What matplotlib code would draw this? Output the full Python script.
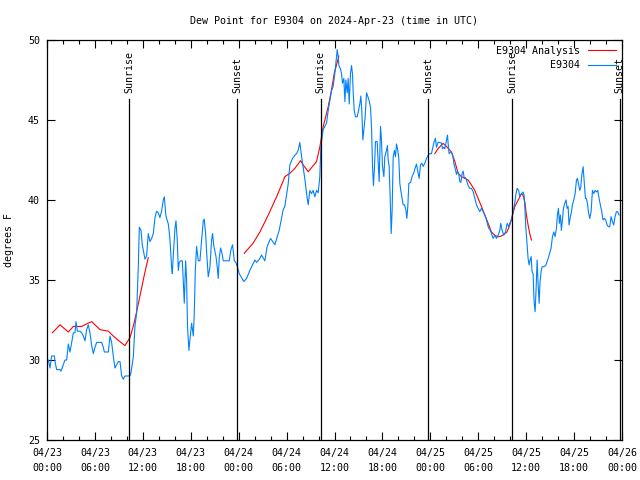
import matplotlib
matplotlib.use("Agg")
import matplotlib.pyplot as plt
import matplotlib.dates as mdates
import numpy as np
import pandas as pd

nan = float("nan")
start = pd.Timestamp("2024-04-23 00:00")

# station observations (hours after 04/23 00:00 UTC, degrees F)
obs_hours = [
    0.0, 0.17, 0.38, 0.58, 0.92, 1.0, 1.21, 1.63, 1.75, 2.04, 2.25, 2.46, 2.67, 2.88, 3.09, 3.3, 3.5, 3.63,
    3.8, 4.13, 4.34, 4.55, 4.76, 4.96, 5.17, 5.38, 5.59, 5.8, 6.01, 6.22, 6.63, 6.84, 7.05, 7.18, 7.68, 7.89,
    8.09, 8.3, 8.51, 8.72, 8.93, 9.14, 9.35, 9.55, 9.76, 10.39, 10.51, 10.81, 11.01, 11.22, 11.43, 11.56,
    11.77, 11.93, 12.27, 12.47, 12.68, 12.89, 13.1, 13.31, 13.52, 13.73, 13.93, 14.14, 14.35, 14.56, 14.69,
    14.89, 15.19, 15.39, 15.6, 15.69, 15.81, 16.02, 16.15, 16.31, 16.44, 16.56, 16.73, 16.94, 17.06, 17.19,
    17.36, 17.48, 17.6, 17.77, 17.9, 18.11, 18.32, 18.44, 18.57, 18.73, 18.94, 19.15, 19.36, 19.57, 19.69,
    19.86, 19.98, 20.19, 20.4, 20.61, 20.73, 20.9, 21.15, 21.32, 21.44, 21.57, 21.74, 21.9, 22.07, 22.82,
    23.03, 23.24, 23.45, 23.65, 23.86, 24.07, 24.3, 24.65, 25.0, 25.4, 26.03, 26.24, 26.6, 26.87, 27.28,
    27.57, 27.99, 28.53, 29.07, 29.58, 29.78, 30.2, 30.41, 30.74, 31.04, 31.24, 31.45, 31.66, 31.87, 32.08,
    32.29, 32.5, 32.71, 32.91, 33.12, 33.33, 33.54, 33.75, 33.96, 34.16, 34.29, 34.4, 34.58, 34.79, 35.0,
    35.21, 35.42, 35.62, 35.83, 36.04, 36.25, 36.34, 36.46, 36.55, 36.75, 36.88, 37.0, 37.17, 37.3, 37.42,
    37.59, 37.71, 37.84, 38.0, 38.13, 38.25, 38.34, 38.47, 38.63, 38.84, 38.97, 39.17, 39.3, 39.42, 39.55,
    39.68, 39.84, 40.01, 40.22, 40.34, 40.51, 40.64, 40.76, 40.88, 41.01, 41.13, 41.34, 41.47, 41.59, 41.76,
    41.88, 42.01, 42.18, 42.3, 42.51, 42.63, 42.72, 42.84, 42.97, 43.1, 43.22, 43.35, 43.51, 43.64, 43.76,
    43.93, 44.05, 44.18, 44.3, 44.47, 44.6, 44.76, 44.93, 45.06, 45.18, 45.31, 45.52, 45.72, 45.93, 46.1,
    46.26, 46.43, 46.6, 46.77, 46.93, 47.1, 47.31, 47.52, 47.73, 47.93, 48.14, 48.48, 48.64, 48.77, 48.97,
    49.18, 49.39, 49.52, 49.68, 49.81, 50.02, 50.15, 50.23, 50.35, 50.56, 50.73, 50.86, 50.98, 51.15, 51.27,
    51.4, 51.57, 51.69, 51.82, 51.98, 52.11, 52.23, 52.4, 52.52, 52.73, 52.94, 53.15, 53.36, 53.57, 53.78,
    53.98, 54.19, 54.4, 54.61, 54.82, 55.03, 55.24, 55.36, 55.53, 55.65, 55.86, 56.07, 56.28, 56.49, 56.7,
    56.82, 56.99, 57.2, 57.41, 57.62, 57.83, 57.95, 58.16, 58.37, 58.57, 58.7, 58.87, 59.07, 59.2, 59.41,
    59.62, 59.74, 59.83, 59.95, 60.12, 60.24, 60.37, 60.49, 60.62, 60.74, 60.87, 60.99, 61.12, 61.24, 61.37,
    61.49, 61.62, 61.74, 61.87, 62.0, 62.2, 62.45, 62.62, 62.79, 62.95, 63.12, 63.29, 63.46, 63.62, 63.79,
    63.91, 64.04, 64.16, 64.29, 64.41, 64.54, 64.67, 64.83, 65.0, 65.12, 65.25, 65.37, 65.5, 65.67, 65.79,
    65.96, 66.13, 66.3, 66.42, 66.54, 66.71, 66.84, 66.96, 67.13, 67.29, 67.42, 67.54, 67.67, 67.79, 67.96,
    68.13, 68.3, 68.46, 68.63, 68.8, 68.96, 69.13, 69.3, 69.46, 69.63, 69.8, 69.96, 70.13, 70.3, 70.46,
    70.63, 70.8, 70.96, 71.13, 71.3, 71.46, 71.63,
]
obs_dewpt = [
    30.0, 30.0, 29.5, 30.25, 30.25, 29.9, 29.4, 29.4, 29.3, 29.7, 30.0, 30.0, 31.0, 30.5, 31.1, 31.7, 31.7, 32.4,
    31.8, 31.8, 31.7, 31.5, 31.2, 31.9, 32.2, 31.7, 30.9, 30.4, 30.8, 31.1, 31.1, 31.1, 30.8, 30.5, 30.5, 31.5,
    31.1, 30.25, 29.5, 29.7, 29.9, 29.9, 29.0, 28.8, 29.0, 29.0, 29.2, 30.2, 32.1, 32.9, 35.8, 38.3,
    38.1, 37.2, 36.3, 36.5, 37.9, 37.4, 37.6, 37.9, 38.9, 39.3, 39.2, 38.9, 39.3, 40.0, 40.2,
    39.0, 38.5, 37.6, 35.8, 35.4, 36.5, 38.2, 38.7, 37.5, 35.6, 36.1, 36.2, 36.2, 35.0, 33.55,
    36.2, 35.0, 32.0, 30.6, 31.3, 32.3, 31.5, 32.9, 35.6, 37.1, 36.2, 36.2, 37.5, 38.7, 38.8,
    37.9, 36.8, 35.2, 35.8, 37.5, 37.9, 37.1, 36.5, 35.8, 35.1, 36.4, 37.0, 36.7, 36.2, 36.2,
    36.9, 37.2, 36.2, 36.1, 35.8, 35.4, 35.2, 34.9, 35.1, 35.6, 36.25, 36.1, 36.3, 36.56, 36.2,
    37.1, 37.6, 37.2, 38.1, 39.4, 39.6, 41.0, 42.2, 42.6, 42.8, 42.9, 43.1, 43.6, 42.75, 42.0,
    41.3, 40.4, 39.7, 40.6, 40.4, 40.6, 40.2, 40.6, 40.45, 41.45, 43.3, 43.75, 44.4, 44.6, 44.8,
    45.6, 46.2, 46.8, 47.1, 47.9, 49.0, 49.4, 48.96, 48.4, 48.2, 47.9, 47.3, 47.6, 46.15, 47.5,
    46.7, 47.6, 46.0, 47.9, 48.4, 47.9, 46.7, 45.6, 45.2, 45.2, 45.5, 46.0, 46.5, 45.6, 43.75,
    44.4, 45.2, 46.7, 46.4, 46.2, 45.8, 44.5, 42.1, 40.9, 42.1, 43.65, 43.65, 42.3, 41.15, 44.6,
    43.75, 42.1, 41.46, 42.7, 43.1, 43.4, 42.5, 42.1, 40.2, 37.9, 39.4, 42.7, 43.1, 42.7, 43.5,
    43.1, 42.6, 41.04, 40.6, 40.1, 39.7, 39.7, 39.4, 38.85, 39.6, 41.04, 41.1, 41.46, 41.7, 42.0,
    42.25, 41.8, 41.35, 42.2, 42.3, 42.1, 42.3, 42.6, 42.8, 42.9, 42.9, 43.65, 43.85, 43.3, 43.6,
    43.6, 43.55, 43.2, 43.3, 43.2, 43.75, 44.06, 43.5, 42.9, 43.0, 42.9, 42.6, 42.2, 41.9, 41.6,
    41.8, 41.6, 41.15, 41.1, 41.67, 41.8, 41.4, 41.4, 41.25, 40.9, 40.73, 40.73, 40.52, 40.1, 39.7,
    39.48, 39.27, 39.48, 39.27, 39.06, 38.75, 38.33, 38.2, 38.1, 37.9, 37.6, 37.8, 37.6, 37.8, 38.1,
    38.54, 38.1, 37.8, 38.0, 38.54, 38.33, 38.54, 38.75, 39.27, 39.8, 40.3, 40.73, 40.6, 40.2, 40.4,
    40.5, 40.3, 39.6, 38.33, 37.19, 36.35, 35.94, 36.25, 36.46, 35.52, 35.4, 33.65, 33.02, 34.4, 36.25,
    34.8, 33.54, 34.9, 35.52, 35.83, 35.83, 35.9, 36.15, 36.4, 36.67, 36.98, 37.71, 38.0, 37.71, 38.23,
    39.06, 39.48, 38.54, 39.06, 38.1, 38.75, 39.48, 39.79, 40.0, 39.48, 39.6, 38.44, 38.85, 39.27, 39.69,
    40.0, 40.4, 41.25, 41.35, 41.04, 40.6, 40.8, 41.56, 42.08, 40.94, 40.1, 40.1, 39.79, 39.27, 38.85,
    39.27, 40.6, 40.4, 40.6, 40.5, 40.6, 40.1, 39.69, 39.27, 38.75, 38.85, 38.75, 38.44, 38.33, 38.33,
    38.96, 38.65, 38.44, 38.96, 39.27, 39.27, 39.06,
]

# analysis (nan separates the three runs)
ana_hours = [
    0.67, 1.63, 2.67, 3.3, 4.34, 5.59, 6.63, 7.68, 8.3, 9.0, 9.76, 10.39, 10.8, 11.22, 11.64, 12.18, 12.68, nan,
    24.7, 25.8, 26.66, 27.7, 28.75, 29.79, 30.41, 31.04, 31.75, 32.08, 32.71, 33.75, 34.17, 34.58, 35.21,
    35.63, 35.96, 36.25, 36.55, nan,
    48.56, 49.0, 49.6, 50.05, 50.65, 51.07, 51.48, 51.9, 52.32, 52.73, 53.15, 53.57, 53.98, 54.4, 54.82,
    55.24, 55.65, 56.07, 56.49, 56.9, 57.32, 57.6, 57.95, 58.24, 58.57, 59.0, 59.41, 59.6, 59.83, 60.03,
    60.24, 60.45, 60.66,
]
ana_dewpt = [
    31.7, 32.2, 31.75, 32.1, 32.1, 32.4, 31.9, 31.8, 31.5, 31.2, 30.9, 31.4, 32.1, 33.0, 34.0, 35.3, 36.4, nan,
    36.67, 37.3, 38.0, 39.06, 40.2, 41.46, 41.67, 41.98, 42.46, 42.19, 41.77, 42.4, 43.33, 44.58, 45.83,
    46.9, 47.9, 48.44, 49.0, nan,
    42.9, 43.23, 43.54, 43.33, 43.0, 42.4, 41.67, 41.46, 41.35, 41.25, 40.94, 40.6, 40.1, 39.6, 39.06,
    38.54, 38.0, 37.8, 37.7, 37.75, 37.9, 38.0, 38.44, 38.96, 39.58, 40.0, 40.4, 40.3, 39.9, 39.06,
    38.44, 37.9, 37.5,
]

sun_hours = [10.3, 23.82, 34.29, 47.72, 58.24, 71.7]
sun_labels = ["Sunrise", "Sunset", "Sunrise", "Sunset", "Sunrise", "Sunset"]

t0 = mdates.date2num(start.to_pydatetime())


def to_num(hours):
    return t0 + np.asarray(hours, dtype=float) / 24.0


plt.rcParams["font.family"] = "DejaVu Sans Mono"
plt.rcParams["font.size"] = 7.2

fig = plt.figure(figsize=(6.4, 4.8), dpi=100)
ax = fig.add_axes([47 / 640, 40 / 480, 575 / 640, 400 / 480])

ax.plot(to_num(ana_hours), ana_dewpt, color="#ff0000", lw=0.8, label="E9304 Analysis")
ax.plot(to_num(obs_hours), obs_dewpt, color="#0080ff", lw=0.8, label="E9304")

# sunrise / sunset markers
for t, lab in zip(to_num(sun_hours), sun_labels):
    ax.axvline(t, ymin=0, ymax=0.8525, color="black", lw=0.9)
    ax.text(t, 0.8675, lab, rotation=90, ha="center", va="bottom",
            transform=ax.get_xaxis_transform(), clip_on=False)

ax.set_xlim(t0, t0 + 3.0)
ax.set_ylim(25, 50)
ax.set_yticks([25, 30, 35, 40, 45, 50])

ax.xaxis.set_major_locator(mdates.HourLocator(byhour=range(0, 24, 6)))
ax.xaxis.set_minor_locator(mdates.HourLocator(byhour=range(0, 24, 2)))
ax.xaxis.set_major_formatter(mdates.DateFormatter("%m/%d\n%H:%M"))

ax.tick_params(which="both", direction="in", top=True, right=True, width=0.8)
ax.tick_params(which="major", length=6)
ax.tick_params(which="minor", length=3)
ax.tick_params(axis="x", pad=6)
ax.tick_params(axis="y", pad=5)
for lbl in ax.get_xticklabels():
    lbl.set_linespacing(1.55)
for s in ax.spines.values():
    s.set_linewidth(0.9)

ax.set_ylabel("degrees F", labelpad=10)
ax.set_title("Dew Point for E9304 on 2024-Apr-23 (time in UTC)", fontsize=7.2, pad=11.5)

ax.legend(loc="upper right", frameon=False, markerfirst=False, handlelength=2.8,
          handletextpad=0.8, labelspacing=0.45, borderaxespad=0.2, fontsize=7.2)

fig.savefig("out.png", dpi=100)
